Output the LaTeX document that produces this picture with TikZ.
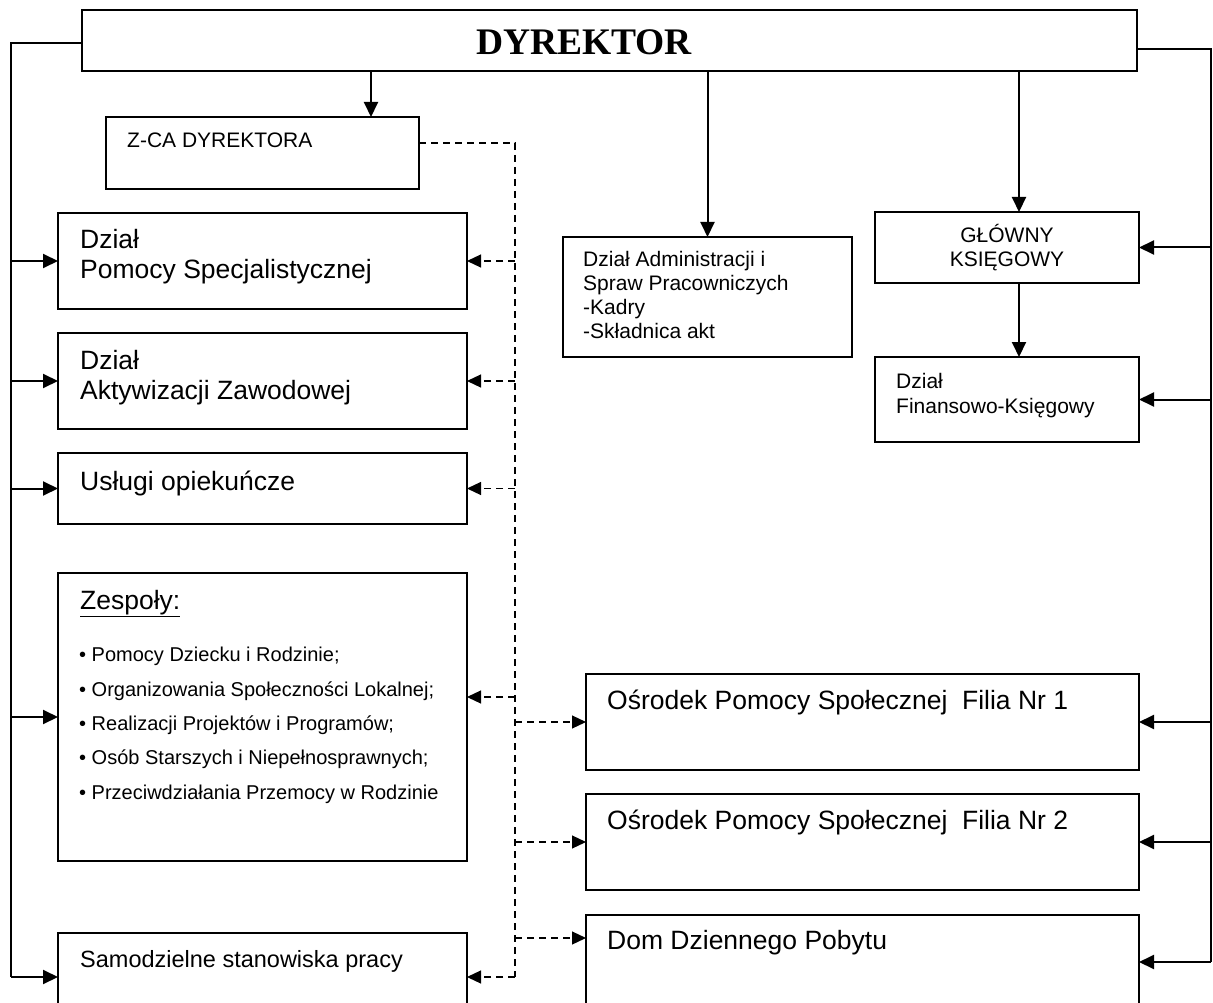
\documentclass[tikz,border=0pt]{standalone}
\usepackage{fontspec}
\setmainfont{Liberation Sans}
\newfontfamily\headfont{Liberation Serif}
\usetikzlibrary{arrows.meta}

\begin{document}
\begin{tikzpicture}[x=1pt, y=-1pt,
		box/.style={draw, line width=2pt, anchor=north west, inner sep=0pt, outer sep=0pt},
		txt/.style={anchor=base west, inner sep=0pt, align=left},
		big/.style={font=\fontsize{26.5}{30}\selectfont},
		small/.style={font=\fontsize{21}{24}\selectfont},
		wire/.style={line width=2pt},
		arr/.style={wire, -{Triangle[length=15pt, width=14pt]}},
		dsh/.style={line width=1.2pt, dash pattern=on 7pt off 5pt},
		dsharr/.style={dsh, -{Triangle[length=14pt, width=13pt]}}]
			%%%%% START %%%%%
			
			\useasboundingbox (0, 0) rectangle (1213, 1003);
			\clip (0, 0) rectangle (1213, 1003);
			
			% boxes
			\node[box, minimum width=1055pt, minimum height=61pt] (dyr) at (82, 10) {};
			\node[box, minimum width=313pt, minimum height=72pt] (zca) at (106, 117) {};
			\node[box, minimum width=409pt, minimum height=96pt] (pomoc) at (58, 213) {};
			\node[box, minimum width=409pt, minimum height=96pt] (aktyw) at (58, 333) {};
			\node[box, minimum width=409pt, minimum height=71pt] (uslugi) at (58, 453) {};
			\node[box, minimum width=409pt, minimum height=288pt] (zesp) at (58, 573) {};
			\node[box, minimum width=409pt, minimum height=88pt] (samo) at (58, 933) {};
			\node[box, minimum width=289pt, minimum height=120pt] (admin) at (563, 237) {};
			\node[box, minimum width=264pt, minimum height=71pt] (glowny) at (875, 212) {};
			\node[box, minimum width=264pt, minimum height=85pt] (finans) at (875, 357) {};
			\node[box, minimum width=553pt, minimum height=96pt] (filia1) at (586, 674) {};
			\node[box, minimum width=553pt, minimum height=96pt] (filia2) at (586, 794) {};
			\node[box, minimum width=553pt, minimum height=94pt] (dom) at (586, 915) {};
			
			% texts (multi-line ones sit on the baseline of their last line)
			\node[anchor=base, inner sep=0pt, font=\headfont\bfseries\fontsize{37.5}{40}\selectfont] (dyrt) at (584, 55) {DYREKTOR};
			\node[txt, small] (zcat) at (127, 148) {Z-CA DYREKTORA};
			\node[txt, font=\fontsize{26.5}{29}\selectfont] (pomoct) at (80, 278) {Dział\\Pomocy Specjalistycznej};
			\node[txt, big] (aktywt) at (80, 399) {Dział\\Aktywizacji Zawodowej};
			\node[txt, big] (uslugit) at (80, 490) {Usługi opiekuńcze};
			\node[txt, big] (zespt) at (80, 609) {\underline{Zespoły:}};
			\node[txt, font=\fontsize{20}{34.3}\selectfont] (zespl) at (79, 799) {%
				• Pomocy Dziecku i Rodzinie;\\
				• Organizowania Społeczności Lokalnej;\\
				• Realizacji Projektów i Programów;\\
				• Osób Starszych i Niepełnosprawnych;\\
				• Przeciwdziałania Przemocy w Rodzinie};
			\node[txt, font=\fontsize{23.5}{28}\selectfont] (samot) at (80, 967) {Samodzielne stanowiska pracy};
			\node[txt, font=\fontsize{21}{23.7}\selectfont] (admint) at (583, 338) {Dział Administracji i\\Spraw Pracowniczych\\-Kadry\\-Składnica akt};
			\node[anchor=base, inner sep=0pt, align=center, font=\fontsize{21}{23.5}\selectfont] (glownyt) at (1007, 266) {GŁÓWNY\\KSIĘGOWY};
			\node[txt, font=\fontsize{21}{25}\selectfont] (finanst) at (896, 413) {Dział\\Finansowo-Księgowy};
			\node[txt, big] (filia1t) at (607, 709) {Ośrodek Pomocy Społecznej\ \ Filia Nr 1};
			\node[txt, big] (filia2t) at (607, 829) {Ośrodek Pomocy Społecznej\ \ Filia Nr 2};
			\node[txt, big] (domt) at (607, 949) {Dom Dziennego Pobytu};
			
			% bus lines
			\coordinate (ltop) at (11, 43);
			\coordinate (rtop) at (1211, 49);
			\coordinate (dtop) at (515, 143);
			\coordinate (tz) at (371, 0);
			\coordinate (tg) at (1019, 0);
			\coordinate (zespin) at ([yshift=20pt]zesp.east);
			\coordinate (domin) at ([yshift=24pt]dom.west);
			
			\draw[wire] (dyr.west |- ltop) -- (ltop) -- (ltop |- samo.west);
			\draw[wire] (dyr.east |- rtop) -- (rtop) -- (rtop |- dom.east);
			\draw[dsh] (zca.east |- dtop) -- (dtop) -- (dtop |- samo.east);
			
			% arrows down
			\draw[arr] (dyr.south -| tz) -- (zca.north -| tz);
			\draw[arr] (dyr.south -| admin.north) -- (admin.north);
			\draw[arr] (dyr.south -| tg) -- (glowny.north -| tg);
			\draw[arr] (glowny.south -| tg) -- (finans.north -| tg);
			
			% arrows from the buses
			\foreach \n in {pomoc, aktyw, uslugi, zesp, samo}
				\draw[arr] (ltop |- \n.west) -- (\n.west);
			\foreach \n in {glowny, finans, filia1, filia2, dom}
				\draw[arr] (rtop |- \n.east) -- (\n.east);
			\foreach \n in {pomoc, aktyw, uslugi, samo}
				\draw[dsharr] (dtop |- \n.east) -- (\n.east);
			\draw[dsharr] (dtop |- zespin) -- (zespin);
			\foreach \n in {filia1, filia2}
				\draw[dsharr] (dtop |- \n.west) -- (\n.west);
			\draw[dsharr] (dtop |- domin) -- (domin);
			
			%%%%% END %%%%%
		\end{tikzpicture}
\end{document}
